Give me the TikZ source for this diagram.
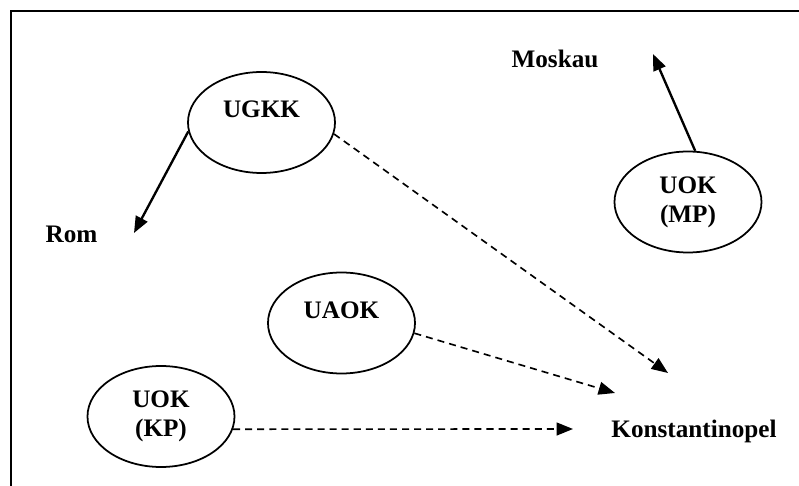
\documentclass[tikz,border=0pt]{standalone}
\usepackage{fontspec}
\setmainfont{Liberation Serif}
\usetikzlibrary{positioning,arrows.meta,shapes.geometric}

\begin{document}
\begin{tikzpicture}[
  x=0.03cm, y=-0.03cm,
  church/.style={ellipse, draw, line width=1.5pt, minimum width=4.41cm,
    minimum height=3.03cm, inner sep=0pt, align=center,
    font=\fontsize{21.5}{25}\selectfont\bfseries},
  upper/.style={text height=5mm, text depth=7.7mm},
  city/.style={anchor=base, font=\fontsize{21.5}{25}\selectfont\bfseries},
  link/.style={line width=2pt, -{Triangle[length=14pt,width=11pt]}},
  claim/.style={line width=1.4pt, dash pattern=on 6pt off 4.3pt,
    -{Triangle[length=14pt,width=11pt]}}
]
\useasboundingbox (0,0) rectangle (799,486);

% Frame (runs off the page at right and bottom)
\draw[line width=1.4pt] (11,486) -- (11,11) -- (799,11);

% Churches
\node[church, upper] (ugkk) at (261.5,122.5) {UGKK};
\node[church, upper] (uaok) at (341.5,323)   {UAOK};
\node[church]        (mp)   at (688,202)     {UOK\\(MP)};
\node[church]        (kp)   at (161,416.5)   {UOK\\(KP)};

% Cities
\node[city] (rom)    at (71.5,243) {Rom};
\node[city] (moskau) at (555,68)   {Moskau};
\node[city] (konst)  at (694,438)  {Konstantinopel};

% Arrow ends
\coordinate (romtip) at (134,233);
\coordinate (mostip) at (653,54);
\coordinate (kA) at (668,373);
\coordinate (kB) at (615,393);
\coordinate (kC) at (573,429);

% --- solid: belonging ---
\draw[link] (ugkk.187) -- (romtip);
\draw[link] (mp.82)    -- (mostip);

% --- dashed: towards Konstantinopel ---
\draw[claim] (ugkk.-9) -- (kA);
\draw[claim] (uaok.-8) -- (kB);
\draw[claim] (kp.-10)  -- (kC);

\end{tikzpicture}
\end{document}
